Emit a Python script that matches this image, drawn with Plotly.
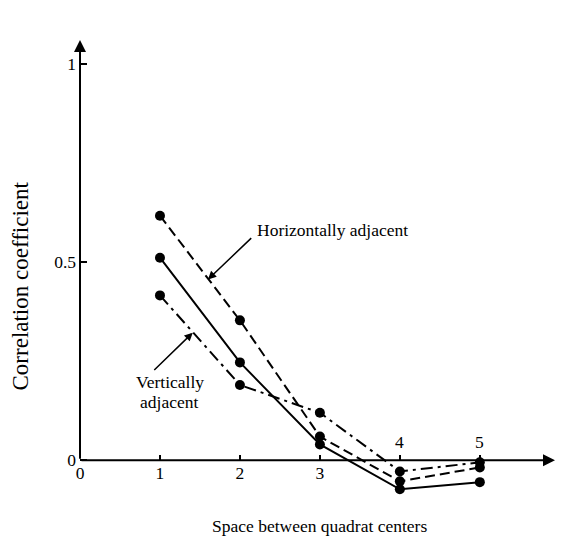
import plotly.graph_objects as go

# Data
spacing = [1, 2, 3, 4, 5]
horizontal = [0.617, 0.353, 0.06, -0.053, -0.018]
overall = [0.511, 0.247, 0.04, -0.073, -0.055]
vertical = [0.416, 0.19, 0.12, -0.028, -0.005]

x_tickvals = [0, 1, 2, 3, 4, 5]
x_ticktext = ["0", "1", "2", "3", "", ""]
x_above_labels = [4, 5]
y_tickvals = [0, 0.5, 1]
y_ticktext = ["0", "0.5", "1"]

XMAX = 5.94
YMIN, YMAX = -0.1, 1.06

FONT = "Liberation Serif"
FS = 17.5

fig = go.Figure()

marker = dict(color="black", size=10)
fig.add_trace(go.Scatter(x=spacing, y=horizontal, mode="lines+markers",
                         line=dict(color="black", width=2, dash="10px,5px"),
                         marker=marker, name="Horizontally adjacent"))
fig.add_trace(go.Scatter(x=spacing, y=overall, mode="lines+markers",
                         line=dict(color="black", width=2),
                         marker=marker, name="Overall"))
fig.add_trace(go.Scatter(x=spacing, y=vertical, mode="lines+markers",
                         line=dict(color="black", width=2, dash="12px,5px,3px,5px"),
                         marker=marker, name="Vertically adjacent"))

tf = dict(family=FONT, size=FS, color="black")
annotations = []
# axes with arrows
annotations.append(dict(x=XMAX, y=0, ax=0, ay=0, xref="x", yref="y", axref="x", ayref="y",
                        showarrow=True, arrowhead=2, arrowsize=1.2, arrowwidth=2,
                        arrowcolor="black", text=""))
annotations.append(dict(x=0, y=YMAX, ax=0, ay=0, xref="x", yref="y", axref="x", ayref="y",
                        showarrow=True, arrowhead=2, arrowsize=1.2, arrowwidth=2,
                        arrowcolor="black", text=""))
# tick labels above the axis for 4 and 5
for v in x_above_labels:
    annotations.append(dict(x=v, y=0, xref="x", yref="y", text=str(v), showarrow=False,
                            yanchor="bottom", yshift=6, font=tf))
# series labels with arrows
annotations.append(dict(x=1.6, y=0.456, ax=2.16, ay=0.564, xref="x", yref="y", axref="x", ayref="y",
                        showarrow=True, arrowhead=2, arrowsize=1.1, arrowwidth=1.5,
                        arrowcolor="black", text=""))
annotations.append(dict(x=2.19, y=0.582, xref="x", yref="y", text="Horizontally adjacent",
                        showarrow=False, xanchor="left", yanchor="middle", font=tf))
annotations.append(dict(x=1.41, y=0.322, ax=0.91, ay=0.224, xref="x", yref="y", axref="x", ayref="y",
                        showarrow=True, arrowhead=2, arrowsize=1.1, arrowwidth=1.5,
                        arrowcolor="black", text=""))
annotations.append(dict(x=1.125, y=0.198, xref="x", yref="y", text="Vertically",
                        showarrow=False, xanchor="center", yanchor="middle", font=tf))
annotations.append(dict(x=1.11, y=0.148, xref="x", yref="y", text="adjacent",
                        showarrow=False, xanchor="center", yanchor="middle", font=tf))
# axis titles
annotations.append(dict(x=-0.125, y=0.44, xref="paper", yref="y", text="Correlation coefficient",
                        showarrow=False, textangle=-90, xanchor="center", yanchor="middle",
                        font=dict(family=FONT, size=23, color="black")))
annotations.append(dict(x=3.0, y=-0.0565, xref="x", yref="paper",
                        text="Space between quadrat centers", showarrow=False,
                        yanchor="middle", xanchor="center", font=tf))

fig.update_layout(
    width=563, height=541,
    margin=dict(l=80, r=8, t=40, b=41),
    paper_bgcolor="white", plot_bgcolor="white",
    showlegend=False,
    annotations=annotations,
    xaxis=dict(range=[0, XMAX], anchor="free", position=(0 - YMIN) / (YMAX - YMIN),
               showgrid=False, zeroline=False, showline=False, automargin=False,
               ticks="inside", ticklen=5, tickwidth=1.5, tickcolor="black",
               tickvals=x_tickvals, ticktext=x_ticktext, tickfont=tf),
    yaxis=dict(range=[YMIN, YMAX], showgrid=False, zeroline=False, showline=False,
               automargin=False, ticklabelstandoff=3,
               ticks="inside", ticklen=7, tickwidth=1.5, tickcolor="black",
               tickvals=y_tickvals, ticktext=y_ticktext, tickfont=tf),
)

fig.write_html("out.html", config={"displayModeBar": False},
               post_script="document.body.style.margin='0px';")
